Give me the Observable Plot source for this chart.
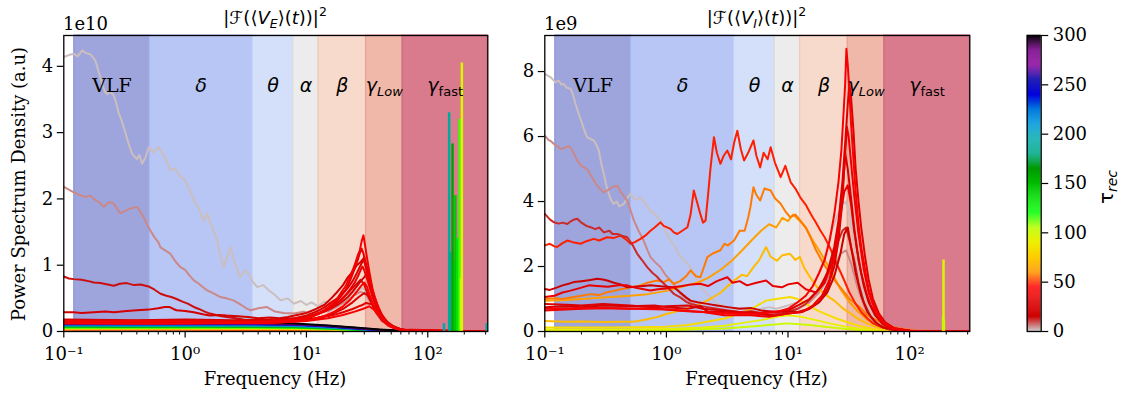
<!DOCTYPE html>
<html>
<head>
<meta charset="utf-8">
<script src="https://cdn.jsdelivr.net/npm/d3@7"></script>
<script src="https://cdn.jsdelivr.net/npm/@observablehq/plot@0.6"></script>
<style>
  html, body { margin: 0; padding: 0; background: #fff; }
  #wrap { position: relative; width: 1122px; height: 395px; overflow: hidden; }
  #wrap > svg { position: absolute; top: 0; }
</style>
</head>
<body>
<div id="wrap"></div>
<script>
// ---------------- DATA ----------------
// frequency bands (Hz)
const bandNames = ["VLF", "δ", "θ", "α", "β", "γ_Low", "γ_fast"];
const bandLo = [0.122, 0.51, 3.6, 7.8, 12.6, 31, 62];
const bandHi = [0.51, 3.6, 7.8, 12.6, 31, 62, 312.5];
const xDomain = [0.1, 312.5];

// ---- left panel |F(<V_E>(t))|^2 , values in units of 1e10 ; [frequency Hz, PSD]
const E_t1 = [[0.1,4.14],[0.11,4.17],[0.121,4.19],[0.13,4.15],[0.142,4.24],[0.152,4.2],[0.166,4.18],[0.182,4.09],[0.195,3.9],[0.207,3.73],[0.218,3.62],[0.228,3.58],[0.24,3.62],[0.258,3.56],[0.27,3.45],[0.284,3.29],[0.3,3.18],[0.312,3.08],[0.34,2.85],[0.366,2.68],[0.4,2.6],[0.42,2.66],[0.442,2.53],[0.47,2.62],[0.502,2.78],[0.55,2.7],[0.6,2.78],[0.627,2.73],[0.68,2.62],[0.758,2.43],[0.82,2.46],[0.9,2.35],[1.0,2.28],[1.08,2.15],[1.18,1.98],[1.3,1.85],[1.42,1.67],[1.52,1.78],[1.65,1.6],[1.84,1.37],[1.95,1.15],[2.08,0.97],[2.2,1.1],[2.37,1.27],[2.55,1.05],[2.84,0.82],[3.1,0.92],[3.36,0.87],[3.6,0.75],[3.94,0.67],[4.4,0.7],[4.9,0.62],[5.5,0.55],[6.1,0.47],[7,0.5],[7.9,0.42],[9,0.46],[10,0.4],[11,0.44],[12.5,0.38],[14,0.45],[16,0.42],[18,0.5],[20,0.52],[23,0.58],[26,0.62],[29,0.66],[32,0.56],[36,0.4],[42,0.22],[50,0.1],[60,0.04],[80,0.01],[120,0.003],[312.5,0]];
const E_t5 = [[0.1,2.18],[0.11,2.14],[0.121,2.1],[0.135,2.06],[0.151,2.03],[0.165,2.05],[0.177,2.0],[0.195,1.95],[0.214,1.88],[0.235,1.95],[0.258,1.93],[0.275,1.85],[0.293,1.78],[0.32,1.82],[0.36,1.86],[0.402,1.88],[0.43,1.8],[0.456,1.72],[0.49,1.6],[0.518,1.52],[0.56,1.42],[0.6,1.35],[0.627,1.27],[0.69,1.22],[0.758,1.17],[0.83,1.06],[0.915,0.97],[1.0,0.93],[1.08,0.85],[1.18,0.77],[1.3,0.72],[1.42,0.66],[1.52,0.62],[1.7,0.58],[1.95,0.52],[2.2,0.5],[2.5,0.47],[2.9,0.4],[3.2,0.35],[3.48,0.32],[4.0,0.35],[4.7,0.37],[5.5,0.3],[6.5,0.28],[7.9,0.27],[9.5,0.3],[11,0.27],[13,0.32],[15,0.3],[18,0.38],[21,0.45],[25,0.55],[28,0.6],[31,0.55],[35,0.4],[40,0.22],[48,0.09],[60,0.03],[80,0.01],[312.5,0]];
const E_t14 = [[0.1,0.83],[0.11,0.8],[0.121,0.79],[0.14,0.78],[0.16,0.76],[0.177,0.74],[0.2,0.73],[0.23,0.71],[0.258,0.69],[0.29,0.72],[0.33,0.73],[0.38,0.7],[0.43,0.71],[0.5,0.68],[0.56,0.63],[0.627,0.57],[0.7,0.54],[0.77,0.52],[0.85,0.49],[0.95,0.45],[1.05,0.42],[1.18,0.37],[1.3,0.34],[1.45,0.3],[1.6,0.27],[1.8,0.25],[2.0,0.23],[2.2,0.22],[2.6,0.2],[3.0,0.18],[3.3,0.17],[4,0.16],[5,0.15],[6,0.16],[7,0.15],[8,0.17],[10,0.2],[12,0.25],[14,0.3],[17,0.4],[20,0.5],[23,0.62],[26,0.72],[28,0.78],[30,0.7],[33,0.5],[37,0.3],[42,0.16],[50,0.07],[60,0.03],[80,0.01],[312.5,0]];
const E_t20 = [[0.1,0.29],[0.12,0.29],[0.14,0.28],[0.177,0.29],[0.22,0.3],[0.26,0.29],[0.33,0.31],[0.4,0.32],[0.5,0.33],[0.6,0.35],[0.68,0.37],[0.74,0.37],[0.8,0.34],[0.85,0.32],[1.0,0.31],[1.18,0.29],[1.4,0.26],[1.6,0.24],[1.9,0.25],[2.2,0.24],[2.7,0.23],[3.3,0.22],[4,0.2],[5,0.21],[6,0.2],[7,0.22],[8,0.24],[10,0.28],[12,0.34],[14,0.4],[16,0.5],[18,0.6],[20,0.7],[22,0.82],[24,0.9],[26,1.0],[28,1.05],[29.5,1.1],[31,0.95],[33,0.75],[36,0.5],[40,0.3],[45,0.16],[52,0.08],[60,0.03],[80,0.01],[312.5,0]];
const E_t25 = [[0.1,0.18],[0.4,0.17],[1,0.18],[2.5,0.17],[5,0.18],[8,0.2],[10,0.22],[12,0.26],[14,0.3],[16,0.35],[18,0.4],[20,0.46],[22,0.52],[24,0.6],[26,0.68],[28,0.76],[30,0.82],[31,0.86],[32,0.8],[33.5,0.7],[35,0.58],[37.5,0.42],[40,0.3],[44,0.18],[50,0.09],[60,0.03],[80,0.005],[312.5,0]];
const E_t28 = [[0.1,0.15],[1,0.15],[4,0.15],[8,0.16],[12,0.2],[16,0.26],[20,0.34],[24,0.44],[27,0.52],[30,0.58],[32,0.55],[34,0.46],[37,0.34],[40,0.24],[45,0.13],[52,0.06],[62,0.02],[312.5,0]];
const E_t30 = [[0.1,0.17],[0.3,0.16],[0.8,0.17],[2,0.16],[4,0.16],[6,0.17],[8,0.2],[10,0.24],[12,0.3],[14,0.36],[16,0.44],[18,0.5],[20,0.58],[22,0.66],[24,0.76],[26,0.88],[28,1.0],[29,1.06],[30,1.12],[31,1.02],[32.5,0.88],[34,0.72],[36,0.55],[39,0.38],[42,0.25],[47,0.13],[54,0.06],[65,0.02],[90,0.005],[312.5,0]];
const E_t33 = [[0.1,0.16],[1,0.15],[4,0.16],[8,0.17],[12,0.2],[16,0.24],[20,0.29],[24,0.34],[27,0.38],[29,0.4],[31,0.43],[33,0.42],[35,0.41],[37,0.35],[40,0.27],[44,0.17],[50,0.08],[60,0.03],[312.5,0]];
const E_t35 = [[0.1,0.15],[0.3,0.14],[0.7,0.15],[1.5,0.14],[3,0.15],[5,0.14],[7,0.16],[9,0.18],[11,0.22],[13,0.28],[15,0.34],[17,0.42],[19,0.52],[21,0.62],[23,0.78],[25,0.95],[26.5,1.08],[27.5,1.18],[28.5,1.25],[29.5,1.18],[30.5,1.05],[32,0.88],[34,0.66],[36,0.48],[39,0.32],[43,0.18],[48,0.09],[56,0.04],[70,0.01],[312.5,0]];
const E_t38 = [[0.1,0.14],[0.5,0.15],[1.5,0.14],[4,0.15],[7,0.17],[9,0.2],[11,0.24],[13,0.29],[15,0.33],[17,0.4],[19,0.47],[21,0.55],[23,0.64],[25,0.74],[27,0.86],[28,0.93],[29,0.98],[30,0.92],[31.5,0.8],[33,0.68],[35,0.52],[38,0.36],[41,0.24],[45,0.14],[52,0.06],[62,0.02],[312.5,0]];
const E_t40 = [[0.1,0.16],[0.2,0.15],[0.4,0.16],[0.8,0.15],[1.5,0.15],[3,0.14],[5,0.15],[7,0.17],[9,0.19],[10.5,0.22],[12,0.25],[13.5,0.3],[15,0.36],[16.5,0.42],[18,0.5],[19.5,0.6],[21,0.68],[22.5,0.8],[24,0.92],[25.5,1.05],[26.5,1.15],[27.5,1.22],[28.5,1.36],[29.5,1.45],[30.3,1.32],[31.5,1.12],[33,0.9],[35,0.65],[37.5,0.45],[40,0.3],[44,0.17],[50,0.08],[58,0.03],[70,0.01],[100,0.002],[312.5,0]];
const E_t42 = [[0.1,0.12],[1,0.12],[5,0.13],[10,0.16],[15,0.2],[20,0.25],[25,0.3],[29,0.34],[33,0.38],[36,0.33],[40,0.24],[45,0.14],[52,0.06],[62,0.02],[312.5,0]];
const E_t45 = [[0.1,0.13],[0.5,0.12],[2,0.13],[5,0.13],[8,0.15],[11,0.18],[14,0.23],[17,0.3],[20,0.38],[23,0.48],[26,0.6],[28,0.68],[30,0.74],[31.5,0.68],[33,0.56],[35,0.44],[38,0.3],[42,0.18],[47,0.09],[55,0.04],[70,0.01],[312.5,0]];
// near-flat low-power lines (tau >= 50) sampled on a coarse grid
const lowFreqE = [0.1, 0.3, 1, 3, 8, 15, 25, 40, 60, 100, 312.5];
const lowTauE = [50, 65, 80, 100, 120, 140, 160, 180, 200, 220, 240, 260, 280, 300];
const lowValsE = [
  [0.025,0.025,0.025,0.024,0.022,0.018,0.012,0.005,0.001,0,0],
  [0.035,0.034,0.035,0.034,0.031,0.025,0.016,0.007,0.002,0,0],
  [0.045,0.044,0.045,0.044,0.04,0.031,0.02,0.008,0.002,0,0],
  [0.053,0.052,0.053,0.052,0.048,0.037,0.023,0.01,0.003,0,0],
  [0.062,0.06,0.062,0.06,0.056,0.042,0.027,0.011,0.003,0,0],
  [0.07,0.068,0.07,0.068,0.063,0.047,0.03,0.012,0.003,0,0],
  [0.078,0.075,0.078,0.075,0.07,0.052,0.033,0.014,0.004,0,0],
  [0.085,0.085,0.083,0.085,0.078,0.058,0.036,0.015,0.004,0,0],
  [0.095,0.092,0.095,0.09,0.085,0.063,0.04,0.017,0.005,0,0],
  [0.1,0.1,0.1,0.1,0.09,0.068,0.042,0.018,0.005,0,0],
  [0.11,0.11,0.108,0.11,0.1,0.075,0.047,0.02,0.006,0,0],
  [0.12,0.115,0.12,0.115,0.105,0.08,0.05,0.022,0.007,0,0],
  [0.125,0.12,0.125,0.12,0.11,0.085,0.055,0.025,0.008,0,0],
  [0.13,0.135,0.13,0.13,0.12,0.09,0.06,0.03,0.01,0,0]
];
// narrow high-frequency spikes (left)
const spikeFreqE = [136, 150, 153, 160, 165, 169, 176, 183, 188, 191, 306];
const spikeValE  = [0.12, 3.3, 1.2, 2.83, 1.05, 2.05, 1.4, 3.2, 0.8, 4.05, 0.12];
const spikeTauE  = [195, 190, 185, 160, 150, 145, 130, 115, 105, 95, 195];

// ---- right panel |F(<V_I>(t))|^2 , values in units of 1e9
const I_t1 = [[0.1,7.93],[0.105,7.88],[0.111,7.83],[0.117,7.75],[0.122,7.67],[0.13,7.72],[0.137,7.6],[0.143,7.62],[0.152,7.5],[0.163,7.47],[0.17,7.3],[0.179,7.0],[0.19,6.7],[0.203,6.39],[0.213,6.15],[0.223,5.98],[0.238,5.92],[0.253,5.88],[0.265,5.75],[0.278,5.57],[0.29,5.2],[0.306,4.85],[0.32,4.5],[0.336,4.24],[0.35,4.05],[0.369,3.93],[0.39,4.0],[0.41,3.85],[0.447,3.93],[0.475,4.1],[0.507,4.24],[0.55,4.05],[0.612,4.13],[0.67,3.95],[0.74,3.72],[0.81,3.6],[0.895,3.42],[0.98,3.1],[1.08,2.8],[1.18,2.6],[1.3,2.29],[1.43,2.15],[1.58,1.98],[1.7,1.75],[1.8,1.57],[1.95,1.35],[2.17,1.16],[2.4,0.98],[2.62,0.85],[2.9,0.8],[3.17,0.75],[3.6,0.7],[4.2,0.72],[5,0.65],[6,0.7],[7,0.75],[8,0.7],[10,0.8],[12,0.9],[14,1.1],[16,1.4],[18,1.8],[20,2.3],[22,2.9],[25,3.5],[28,3.9],[30,4.0],[32,3.6],[35,2.8],[38,2.0],[42,1.2],[48,0.6],[55,0.3],[65,0.12],[80,0.05],[120,0.01],[312.5,0]];
const I_t5 = [[0.1,6.03],[0.107,5.9],[0.113,5.85],[0.119,5.77],[0.127,5.7],[0.135,5.62],[0.145,5.65],[0.155,5.7],[0.163,5.67],[0.175,5.45],[0.185,5.26],[0.2,5.1],[0.223,5.0],[0.24,4.8],[0.253,4.65],[0.275,4.45],[0.306,4.28],[0.33,4.35],[0.358,4.44],[0.394,4.49],[0.43,4.25],[0.476,4.03],[0.51,3.7],[0.54,3.42],[0.59,3.1],[0.65,2.8],[0.7,2.5],[0.74,2.29],[0.8,2.15],[0.895,1.98],[0.98,1.75],[1.08,1.57],[1.18,1.4],[1.3,1.16],[1.5,0.98],[1.68,0.85],[1.9,0.72],[2.17,0.65],[2.6,0.6],[3.2,0.55],[4,0.58],[5,0.5],[6.5,0.55],[8,0.5],[10,0.6],[12,0.7],[15,0.9],[18,1.2],[21,1.6],[24,2.0],[27,2.4],[30,2.5],[33,2.1],[37,1.4],[42,0.8],[48,0.4],[56,0.18],[70,0.06],[100,0.01],[312.5,0]];
const I_t12 = [[0.1,3.62],[0.11,3.45],[0.119,3.36],[0.13,3.32],[0.14,3.35],[0.153,3.31],[0.165,3.4],[0.175,3.45],[0.185,3.47],[0.2,3.35],[0.22,3.25],[0.238,3.21],[0.26,3.15],[0.28,3.2],[0.306,3.05],[0.34,3.1],[0.36,3.0],[0.394,3.0],[0.43,2.95],[0.476,2.9],[0.52,2.7],[0.576,2.39],[0.63,2.2],[0.695,1.98],[0.77,1.8],[0.83,1.7],[0.895,1.57],[1.0,1.4],[1.15,1.16],[1.3,1.05],[1.45,0.92],[1.58,0.85],[1.8,0.8],[2.17,0.75],[2.6,0.7],[3.2,0.65],[4,0.6],[5,0.62],[6,0.58],[7,0.6],[8.5,0.55],[10,0.6],[12,0.7],[14,0.85],[17,1.2],[20,1.6],[23,2.2],[26,2.8],[28,3.1],[30,3.2],[32,2.8],[35,2.2],[38,1.5],[42,0.9],[48,0.45],[55,0.2],[65,0.08],[80,0.03],[120,0.005],[312.5,0]];
const I_t16 = [[0.1,1.31],[0.11,1.28],[0.125,1.35],[0.14,1.42],[0.16,1.48],[0.173,1.52],[0.2,1.55],[0.23,1.58],[0.27,1.62],[0.3,1.6],[0.326,1.57],[0.37,1.5],[0.42,1.45],[0.476,1.36],[0.55,1.38],[0.65,1.4],[0.74,1.42],[0.85,1.4],[1.0,1.38],[1.15,1.36],[1.3,1.2],[1.45,1.05],[1.58,0.95],[1.8,0.9],[2.17,0.85],[2.6,0.8],[3.2,0.75],[4,0.7],[5,0.72],[6,0.65],[8,0.6],[10,0.62],[12,0.6],[15,0.7],[18,0.9],[21,1.2],[24,1.7],[27,2.4],[29,3.0],[31,3.2],[33,2.6],[36,1.8],[40,1.1],[45,0.6],[52,0.3],[60,0.13],[75,0.05],[100,0.01],[312.5,0]];
const I_t25 = [[0.1,0.75],[0.15,0.78],[0.2,0.75],[0.3,0.8],[0.5,0.78],[0.8,0.8],[1,0.75],[1.5,0.7],[1.9,0.78],[2.2,0.6],[3,0.62],[4,0.55],[5,0.6],[6,0.52],[8,0.5],[10,0.55],[13,0.6],[15,0.7],[18,0.9],[21,1.3],[24,2.0],[26,2.8],[28,4.0],[29.5,5.5],[31,5.0],[33,4.1],[35,3.2],[38,2.2],[42,1.4],[46,0.9],[52,0.5],[60,0.25],[75,0.08],[100,0.02],[312.5,0]];
const I_t30 = [[0.1,0.85],[0.15,0.82],[0.2,0.8],[0.3,0.85],[0.5,0.8],[0.8,0.75],[1,0.78],[1.5,0.8],[2,0.7],[3,0.65],[4,0.6],[5,0.55],[7,0.6],[10,0.65],[12,0.8],[15,1.0],[18,1.3],[21,1.8],[24,2.6],[26,3.4],[28,4.6],[29.5,5.8],[31,7.0],[32,7.6],[33,7.2],[34.5,6.2],[36,5.0],[38,4.0],[40,3.2],[43,2.3],[46,1.6],[50,1.0],[56,0.55],[63,0.28],[75,0.1],[100,0.02],[312.5,0]];
const I_t35 = [[0.1,1.06],[0.12,1.1],[0.14,1.2],[0.16,1.25],[0.2,1.35],[0.23,1.42],[0.27,1.4],[0.33,1.38],[0.4,1.42],[0.476,1.42],[0.55,1.35],[0.65,1.3],[0.74,1.26],[0.85,1.3],[1.0,1.32],[1.15,1.36],[1.35,1.4],[1.6,1.45],[1.9,1.47],[2.2,1.4],[2.6,1.55],[3.17,1.67],[3.5,1.5],[4,1.55],[4.6,1.42],[5.5,1.5],[6.6,1.57],[7.5,1.4],[8.9,1.36],[10,1.45],[12,1.5],[14,1.3],[17,1.2],[20,1.5],[23,2.1],[25,2.8],[27,3.6],[29,4.3],[31,4.5],[33,3.9],[35,3.1],[37,2.5],[40,1.8],[44,1.2],[48,0.8],[54,0.45],[60,0.22],[70,0.09],[85,0.03],[110,0.01],[312.5,0]];
const I_t38 = [[0.1,0.65],[0.2,0.7],[0.3,0.72],[0.5,0.7],[0.8,0.72],[1,0.68],[1.5,0.62],[2,0.6],[3,0.5],[5,0.5],[7,0.45],[10,0.55],[13,0.6],[16,0.8],[19,1.1],[22,1.6],[25,2.6],[27,3.6],[29,5.0],[30.5,6.3],[31.5,6.0],[33,5.2],[35,4.2],[38,3.0],[42,1.9],[46,1.2],[52,0.65],[60,0.3],[75,0.1],[100,0.02],[312.5,0]];
const I_t42 = [[0.1,0.7],[0.3,0.72],[1,0.68],[2,0.6],[4,0.55],[6,0.55],[8,0.6],[10,0.7],[12,0.9],[14,1.1],[16,1.4],[18,1.8],[20,2.2],[22,2.8],[24,3.6],[26,4.6],[27.5,5.6],[28.5,6.6],[29.5,7.6],[30.2,8.7],[31,8.2],[32,7.4],[33,6.4],[34.5,5.3],[36,4.3],[38,3.3],[40,2.6],[43,1.9],[46,1.3],[50,0.85],[55,0.5],[62,0.25],[72,0.1],[90,0.03],[130,0.01],[312.5,0]];
const I_t48 = [[0.1,2.65],[0.11,2.7],[0.12,2.62],[0.126,2.6],[0.14,2.72],[0.153,2.8],[0.17,2.75],[0.197,2.7],[0.22,2.78],[0.253,2.85],[0.28,2.8],[0.326,2.9],[0.37,2.88],[0.42,2.95],[0.46,2.85],[0.507,2.7],[0.55,2.75],[0.612,2.85],[0.67,2.95],[0.74,3.1],[0.8,3.2],[0.895,3.36],[0.95,3.25],[1.08,3.16],[1.15,3.05],[1.23,3.0],[1.35,3.1],[1.49,3.21],[1.58,3.6],[1.68,4.34],[1.75,4.1],[1.9,3.62],[2.0,3.35],[2.1,3.42],[2.2,4.2],[2.3,5.0],[2.46,5.98],[2.6,5.5],[2.78,5.16],[2.95,5.4],[3.17,5.57],[3.4,5.3],[3.6,5.8],[3.83,6.18],[4.1,5.6],[4.35,5.26],[4.7,5.5],[5.2,5.88],[5.5,5.4],[5.9,5.05],[6.3,5.5],[6.8,5.3],[7.2,5.67],[7.8,5.2],[8.7,4.75],[9.5,5.1],[10.5,4.6],[11.5,4.4],[12.6,4.13],[14,3.9],[15.3,3.63],[17,3.35],[18.5,3.1],[20,2.9],[22,2.6],[25,2.1],[28,1.7],[32,1.2],[36,0.85],[40,0.6],[45,0.4],[50,0.25],[60,0.12],[70,0.06],[90,0.02],[150,0.005],[312.5,0]];
const I_t57 = [[0.1,1.0],[0.12,1.02],[0.14,1.0],[0.173,1.06],[0.2,1.1],[0.24,1.15],[0.28,1.12],[0.326,1.21],[0.37,1.25],[0.42,1.3],[0.5,1.35],[0.612,1.42],[0.7,1.5],[0.84,1.57],[0.95,1.52],[1.05,1.6],[1.15,1.47],[1.3,1.55],[1.45,1.7],[1.58,1.88],[1.75,1.7],[1.9,1.67],[2.0,1.9],[2.17,2.29],[2.4,2.4],[2.78,2.5],[3.0,2.7],[3.2,2.65],[3.6,2.8],[4.0,3.1],[4.4,3.1],[4.7,3.5],[4.9,3.82],[5.2,4.44],[5.5,4.2],[5.9,4.03],[6.4,4.4],[7.2,4.34],[7.8,4.1],[8.7,3.93],[9.5,3.7],[10.4,3.52],[11.5,3.6],[12.6,3.42],[14,3.2],[15.3,2.9],[17,2.5],[19.6,2.08],[22,1.8],[25,1.5],[27,1.36],[32,1.0],[39,0.75],[45,0.5],[54,0.34],[65,0.18],[80,0.1],[110,0.03],[200,0.005],[312.5,0]];
const I_t62 = [[0.1,0.95],[0.15,0.97],[0.2,1.0],[0.3,1.05],[0.5,1.1],[0.7,1.15],[1.0,1.25],[1.4,1.4],[1.8,1.5],[2.2,1.65],[2.8,1.9],[3.5,2.2],[4.2,2.5],[5,2.8],[6,3.1],[7,3.3],[8,3.2],[9,3.5],[10,3.4],[11,3.6],[12.5,3.4],[14,3.2],[16,2.8],[18,2.5],[20,2.2],[23,1.8],[27,1.3],[32,0.9],[38,0.6],[45,0.35],[55,0.18],[70,0.07],[100,0.02],[312.5,0]];
const I_t70 = [[0.1,0.32],[0.15,0.3],[0.2,0.31],[0.3,0.29],[0.4,0.3],[0.54,0.3],[0.7,0.38],[0.85,0.45],[1.0,0.54],[1.3,0.65],[1.6,0.75],[1.9,0.85],[2.3,1.0],[2.8,1.2],[3.2,1.4],[3.6,1.57],[4.2,1.75],[4.6,1.7],[5.2,1.98],[5.8,2.2],[6.6,2.6],[7.2,2.3],[8.1,2.18],[9,2.35],[10.4,2.39],[11.5,2.2],[12.5,2.3],[13.5,1.98],[15,1.7],[17.4,1.36],[20,1.15],[24,0.95],[28,0.72],[33,0.54],[38,0.38],[45,0.24],[55,0.12],[80,0.05],[120,0.01],[312.5,0]];
const I_t82 = [[0.1,0.12],[0.3,0.12],[0.6,0.13],[1,0.15],[1.5,0.2],[2,0.28],[3,0.4],[4,0.55],[5,0.7],[6.6,0.95],[8,1.0],[10.4,1.06],[12,1.0],[14,0.85],[17.4,0.65],[20,0.55],[25,0.4],[30,0.3],[38,0.18],[50,0.08],[70,0.03],[120,0.005],[312.5,0]];
const I_t92 = [[0.1,0.06],[0.5,0.06],[1,0.08],[2,0.12],[3,0.18],[4,0.25],[6,0.35],[8,0.45],[10,0.5],[13,0.45],[17,0.35],[22,0.25],[30,0.15],[40,0.08],[55,0.03],[80,0.01],[312.5,0]];
const I_t100 = [[0.1,0.03],[1,0.04],[3,0.09],[6,0.18],[10,0.25],[15,0.2],[25,0.11],[40,0.04],[60,0.01],[312.5,0]];
// narrow high-frequency spike (right)
const spikeFreqI = [188, 190, 191.5];
const spikeValI  = [0.45, 2.2, 0.35];
const spikeTauI  = [110, 95, 100];

// ticks
const yTicksE = [0, 1, 2, 3, 4];
const yTicksI = [0, 2, 4, 6, 8];
const xMajor = [0.1, 1, 10, 100];
const xMajorLabels = ["10⁻¹", "10⁰", "10¹", "10²"];
const xMinor = [0.2,0.3,0.4,0.5,0.6,0.7,0.8,0.9,2,3,4,5,6,7,8,9,20,30,40,50,60,70,80,90,200,300];
const cbTicks = [0, 50, 100, 150, 200, 250, 300];

// ---------------- STYLE ----------------
const bandFill = ["#9da5dc", "#b7c6f4", "#d4e0f9", "#ececec", "#f8dacd", "#f0b8a9", "#d97b8d"];
const bandEdge = ["#8d96d6", "#a5b7f0", "#c3d3f6", "#dedede", "#f2c6b6", "#e9a392", "#d0677c"];
// matplotlib nipy_spectral control points (t, r, g, b); used reversed
const nipyStops = [[0,0,0,0],[0.05,0.4667,0,0.5333],[0.10,0.5333,0,0.6],[0.15,0,0,0.6667],[0.20,0,0,0.8667],[0.25,0,0.4667,0.8667],[0.30,0,0.6,0.8667],[0.35,0,0.6667,0.6667],[0.40,0,0.6667,0.5333],[0.45,0,0.6,0],[0.50,0,0.7333,0],[0.55,0,0.8667,0],[0.60,0,1,0],[0.65,0.7333,1,0],[0.70,0.9333,0.9333,0],[0.75,1,0.8,0],[0.80,1,0.6,0],[0.85,1,0,0],[0.90,0.8667,0,0],[0.95,0.8,0,0],[1.0,0.8,0.8,0.8]];
function nipy(t) {
  t = Math.max(0, Math.min(1, t));
  let i = 0;
  while (i < nipyStops.length - 2 && t > nipyStops[i + 1][0]) i++;
  const a = nipyStops[i], b = nipyStops[i + 1];
  const u = (t - a[0]) / (b[0] - a[0]);
  const c = k => Math.round(255 * (a[k] + u * (b[k] - a[k])));
  return `rgb(${c(1)},${c(2)},${c(3)})`;
}
const cmap = t => nipy(1 - t);
const colorScale = {type: "linear", domain: [0, 300], interpolate: cmap};

const FONT_SERIF = "DejaVu Serif";
const FONT_SANS = "DejaVu Sans";
const FS = 18;

// ---------------- BUILD ----------------
function toRows(series) {
  const rows = [];
  series.forEach(([tau, pts], id) => pts.forEach(([f, v]) => rows.push({f, v, tau, id})));
  return rows;
}

function panel({series, spikeF, spikeV, spikeT, yMax, yTicks, width, mLeft, mRight}) {
  const rows = toRows(series);
  const bands = bandNames.map((name, i) => ({name, lo: bandLo[i], hi: bandHi[i], fill: bandFill[i], edge: bandEdge[i]}));
  const spikes = spikeF.map((f, i) => ({f, v: spikeV[i], tau: spikeT[i]}));
  const textBands = bands.filter(b => b.name !== "VLF");
  const vlf = bands.filter(b => b.name === "VLF");
  const svg = Plot.plot({
    width, height: 395,
    marginLeft: mLeft, marginRight: mRight, marginTop: 35, marginBottom: 64,
    x: {type: "log", domain: xDomain},
    y: {domain: [0, yMax]},
    color: colorScale,
    style: {fontFamily: FONT_SERIF, fontSize: FS + "px", color: "black", background: "transparent"},
    marks: [
      ...bands.map(b => Plot.rect([b], {x1: "lo", x2: "hi", y1: 0, y2: yMax, fill: b.fill, stroke: b.edge, strokeWidth: 1.2})),
      Plot.line(rows, {x: "f", y: "v", z: "id", stroke: "tau", strokeWidth: 2, clip: true, curve: "linear"}),
      Plot.ruleX(spikes, {x: "f", y1: 0, y2: "v", stroke: "tau", strokeWidth: 2.5}),
      Plot.text(vlf, {x: d => Math.sqrt(d.lo * d.hi), text: "name", frameAnchor: "top", dy: 43, fontFamily: FONT_SERIF, fontSize: FS + 1, fill: "black"}),
      Plot.text(textBands, {x: d => Math.sqrt(d.lo * d.hi), text: "name", frameAnchor: "top", dy: 43, fontFamily: FONT_SANS, fontStyle: "italic", fontSize: FS + 1, fill: "black"}),
      Plot.axisX({ticks: xMinor, tickSize: 3.5, tickFormat: () => "", label: null, strokeWidth: 1}),
      Plot.axisX({ticks: xMajor, tickSize: 6.5, tickPadding: 9, tickFormat: d => xMajorLabels[xMajor.indexOf(d)], label: null, strokeWidth: 1.2}),
      Plot.axisY({ticks: yTicks, tickSize: 6.5, tickPadding: 4, tickFormat: d => String(d), label: null, strokeWidth: 1.2}),
      Plot.frame({stroke: "black", strokeWidth: 1.3})
    ]
  });
  // subscripts for gamma band labels  (γ_Low italic, γ_fast upright)
  svg.querySelectorAll("text").forEach(t => {
    const s = t.textContent;
    if (s.includes("_")) {
      const [base, sub] = s.split("_");
      t.textContent = "";
      const ns = "http://www.w3.org/2000/svg";
      const a = document.createElementNS(ns, "tspan"); a.textContent = base;
      const b = document.createElementNS(ns, "tspan"); b.textContent = sub;
      b.setAttribute("font-size", "13");
      b.setAttribute("dy", "0.3em");
      b.setAttribute("font-style", sub === "Low" ? "italic" : "normal");
      t.appendChild(a); t.appendChild(b);
    }
  });
  return svg;
}

const seriesE = [
  [1, E_t1], [5, E_t5],
  ...lowTauE.map((tau, i) => [tau, lowFreqE.map((f, j) => [f, lowValsE[i][j]])]),
  [14, E_t14], [20, E_t20], [42, E_t42], [33, E_t33], [28, E_t28], [45, E_t45], [25, E_t25], [38, E_t38], [30, E_t30], [35, E_t35], [40, E_t40]
];
const seriesI = [
  [1, I_t1], [5, I_t5], [100, I_t100], [92, I_t92], [82, I_t82], [70, I_t70], [62, I_t62], [57, I_t57], [48, I_t48],
  [12, I_t12], [16, I_t16], [35, I_t35], [25, I_t25], [38, I_t38], [30, I_t30], [42, I_t42]
];

const wrap = document.getElementById("wrap");

const left = panel({series: seriesE, spikeF: spikeFreqE, spikeV: spikeValE, spikeT: spikeTauE,
  yMax: 4.465, yTicks: yTicksE, width: 500, mLeft: 63.3, mRight: 12.7});
left.style.left = "0px";
wrap.appendChild(left);

const right = panel({series: seriesI, spikeF: spikeFreqI, spikeV: spikeValI, spikeT: spikeTauI,
  yMax: 9.11, yTicks: yTicksI, width: 482, mLeft: 44.3, mRight: 12.7});
right.style.left = "500px";
wrap.appendChild(right);

// colorbar
const cells = d3.range(0, 300, 1);
const cb = Plot.plot({
  width: 132, height: 395,
  marginLeft: 36.7, marginRight: 81.3, marginTop: 35, marginBottom: 64,
  x: {domain: [0, 1], axis: null},
  y: {domain: [0, 300]},
  color: colorScale,
  style: {fontFamily: FONT_SERIF, fontSize: FS + "px", color: "black", background: "transparent"},
  marks: [
    Plot.rect(cells, {x1: 0, x2: 1, y1: d => d, y2: d => d + 1.2, fill: d => d + 0.5}),
    Plot.axisY({anchor: "right", ticks: cbTicks, tickSize: 6.5, tickPadding: 5, tickFormat: d => String(d), label: null, strokeWidth: 1.2}),
    Plot.frame({stroke: "black", strokeWidth: 1.3})
  ]
});
cb.style.left = "990px";
wrap.appendChild(cb);

// overlay texts: titles, axis labels, offsets
const ns = "http://www.w3.org/2000/svg";
const ov = document.createElementNS(ns, "svg");
ov.setAttribute("width", 1122); ov.setAttribute("height", 395);
ov.style.left = "0px";
ov.style.pointerEvents = "none";
const title = (cx, sub) => `<text x="${cx}" y="24" text-anchor="middle" font-family="${FONT_SANS}" font-size="${FS}">|ℱ(⟨<tspan font-style="italic">V</tspan><tspan font-style="italic" font-size="12.5" dy="4">${sub}</tspan><tspan dy="-4">⟩(</tspan><tspan font-style="italic">t</tspan>))|<tspan font-size="12.5" dy="-8">2</tspan></text>`;
ov.innerHTML =
  title(275, "E") + title(756.5, "I") +
  `<text x="63" y="30" font-family="${FONT_SERIF}" font-size="${FS}">1e10</text>` +
  `<text x="544" y="30" font-family="${FONT_SERIF}" font-size="${FS}">1e9</text>` +
  `<text transform="translate(25,184) rotate(-90)" text-anchor="middle" font-family="${FONT_SERIF}" font-size="${FS}">Power Spectrum Density (a.u)</text>` +
  `<text x="275" y="385" text-anchor="middle" font-family="${FONT_SERIF}" font-size="${FS}">Frequency (Hz)</text>` +
  `<text x="756.5" y="385" text-anchor="middle" font-family="${FONT_SERIF}" font-size="${FS}">Frequency (Hz)</text>` +
  `<text transform="translate(1113,187) rotate(-90)" text-anchor="middle" font-family="${FONT_SANS}" font-size="${FS + 2}">τ<tspan font-style="italic" font-size="14" dy="4">rec</tspan></text>`;
wrap.appendChild(ov);
</script>
</body>
</html>
